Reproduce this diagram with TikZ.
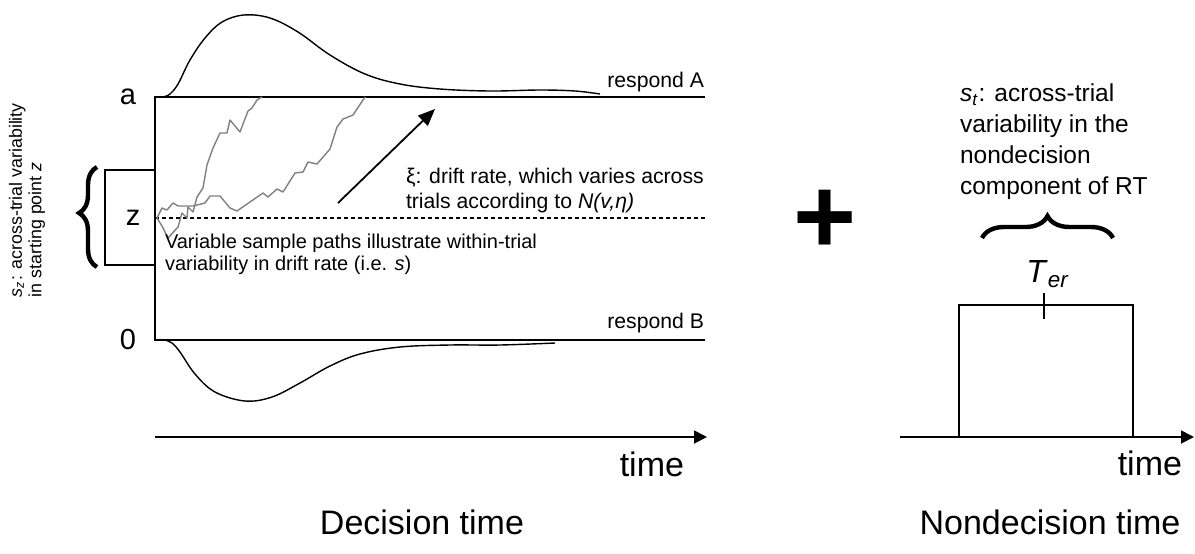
\documentclass[tikz,border=0pt]{standalone}
\usepackage{fontspec}
\setmainfont{Liberation Sans}
\usepackage{tikz}
\usetikzlibrary{arrows.meta, decorations.pathreplacing}
\tikzstyle{bound} = [line width=0.9pt]
\tikzstyle{axis} = [line width=0.9pt,-{Triangle[length=6.5pt,width=6.5pt]}]
\tikzstyle{walk} = [black!50, line width=0.7pt, line join=round]
\tikzstyle{dens} = [line width=0.7pt]
\tikzstyle{lbl} = [inner sep=0pt, outer sep=0pt]
\tikzstyle{curly} = [decorate, line width=2.2pt]
\newcommand{\fsz}[2]{\fontsize{#1}{#2}\selectfont}

\begin{document}
\begin{tikzpicture}[x=0.5pt,y=-0.5pt]
	\useasboundingbox (0,0) rectangle (1195,553);
	
	% Decision process:
	% boundaries a and 0, the start line and the box for z
	\coordinate (topL) at (155,97);
	\coordinate (topR) at (705,97);
	\coordinate (botL) at (155,340);
	\coordinate (botR) at (705,340);
	\coordinate (zL) at (155,218);
	\coordinate (zR) at (705,218);
	\draw[bound] (topR) -- (topL) -- (botL) -- (botR);
	\draw[bound, dash pattern=on 2pt off 1.5pt] (zL) -- (zR);
	\node[draw, line width=0.9pt, minimum width=25pt, minimum height=47.5pt, font=\fsz{14.5}{16}] (zbox) at (130,217.5) {\hspace{3pt}z};
	\node[lbl, font=\fsz{14.5}{16}] (la) at (128,97) {a};
	\node[lbl, font=\fsz{14.5}{16}] (l0) at (128,340) {0};
	\node[lbl, anchor=base east, font=\fsz{10.6}{12}] (respA) at (704,87) {respond A};
	\node[lbl, anchor=base east, font=\fsz{10.6}{12}] (respB) at (704,328) {respond B};
	
	% Starting point variability
	\coordinate (brBot) at (97,267);
	\coordinate (brTop) at (97,167);
	\draw[curly, decoration={brace, amplitude=9pt, aspect=0.54}] (brBot) -- (brTop);
	\node[lbl, rotate=90, anchor=north west, align=left, font=\fsz{8.9}{9.75}] (sz) at (9,297)
		{\textit{s}\textsubscript{\textit{z}}: across-trial variability\\in starting point \textit{z}};
	
	% First passage time densities
	\draw[dens] plot[smooth, tension=0.6] coordinates {(163,97) (170,94) (178,84) (190,60) (205,38) (222,22) (244,15) (270,18) (298,32) (330,55) (365,74) (400,84) (440,89) (490,91) (540,90) (575,91) (600,94)};
	\draw[dens] plot[smooth, tension=0.6] coordinates {(165,340) (172,343) (180,352) (195,374) (215,392) (245,401) (272,397) (300,383) (330,366) (360,354) (400,347) (450,345) (500,345) (555,343)};
	
	% Sample paths
	\draw[walk] plot coordinates {(157,218) (162,226) (168,238) (178,227) (182,213) (187,218) (188,207) (193,212) (197,197) (203,188) (207,165) (213,148) (220,133) (227,133) (230,120) (240,132) (248,111) (252,108) (257,100) (262,97)};
	\draw[walk] plot coordinates {(157,218) (162,208) (167,210) (173,203) (178,206) (193,206) (205,203) (210,196) (220,196) (230,208) (237,211) (263,193) (268,197) (277,189) (283,192) (295,173) (303,172) (308,162) (317,164) (330,149) (337,127) (343,119) (353,115) (365,97)};
	
	% Drift rate
	\coordinate (dS) at (338,203);
	\coordinate (dE) at (435,109);
	\draw[line width=0.9pt, -{Triangle[length=8.5pt,width=7pt]}] (dS) -- (dE);
	\node[lbl, anchor=north west, align=left, font=\fsz{10.6}{12.5}] (drift) at (406,168)
		{ξ: drift rate, which varies across\\trials according to \textit{N(v,η)}};
	\node[lbl, anchor=north west, align=left, font=\fsz{10}{11}] (walks) at (165,234)
		{Variable sample paths illustrate within-trial\\variability in drift rate (i.e. \textit{s})};
	
	% Decision time axis
	\coordinate (tL) at (155,437);
	\coordinate (tR) at (707,437);
	\draw[axis] (tL) -- (tR);
	\node[lbl, anchor=base east, font=\fsz{17}{19}] (time1) at (684,476) {time};
	\node[lbl, anchor=base, font=\fsz{17}{19}] (dtime) at (422,534) {Decision time};
	
	% Plus
	\node[lbl, font=\fsz{54}{54}\bfseries] (plus) at (825,222) {+};
	
	% Nondecision time
	\coordinate (nL) at (900,437);
	\coordinate (nR) at (1194,437);
	\draw[axis] (nL) -- (nR);
	\node[draw, line width=0.9pt, minimum width=87pt, minimum height=66pt] (ndbox) at (1046,371) {};
	\coordinate (tkT) at (1044,293);
	\coordinate (tkB) at (1044,319);
	\draw[bound] (tkT) -- (tkB);
	\node[lbl, anchor=base, font=\fsz{16}{18}] (ter) at (1048,282) {\textit{T}\textsubscript{\textit{er}}};
	\coordinate (brL) at (982,238);
	\coordinate (brR) at (1113,238);
	\draw[curly, decoration={brace, amplitude=11pt}] (brL) -- (brR);
	\node[lbl, anchor=north west, align=left, font=\fsz{12.25}{15.5}] (st) at (960,84)
		{\textit{s}\textsubscript{\textit{t}}: across-trial\\variability in the\\nondecision\\component of RT};
	\node[lbl, anchor=base east, font=\fsz{17}{19}] (time2) at (1182,475) {time};
	\node[lbl, anchor=base, font=\fsz{17}{19}] (ndtime) at (1050,534) {Nondecision time};
	
\end{tikzpicture}
\end{document}
